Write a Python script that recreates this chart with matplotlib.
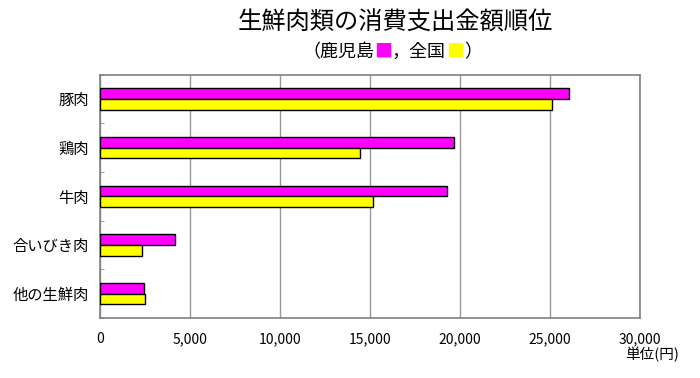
import matplotlib
matplotlib.use("Agg")
import matplotlib.pyplot as plt
import numpy as np

plt.rcParams['font.family'] = ['Noto Sans CJK JP', 'DejaVu Sans']

categories = ["豚肉", "鶏肉", "牛肉", "合いびき肉", "他の生鮮肉"]
kagoshima = [26050, 19650, 19300, 4180, 2460]
zenkoku = [25120, 14440, 15190, 2330, 2480]
xticks = [0, 5000, 10000, 15000, 20000, 25000, 30000]
xticklabels = ["0", "5,000", "10,000", "15,000", "20,000", "25,000", "30,000"]

W, H = 700, 378
fig = plt.figure(figsize=(7, 3.78), dpi=100)
ax = fig.add_axes([100 / W, 1 - 318 / H, 540 / W, (318 - 74.5) / H])

y = np.arange(len(categories))
h = 0.22
ax.barh(y - h / 2, kagoshima, height=h, color="#FF00FF", edgecolor="black", linewidth=1.0, zorder=3)
ax.barh(y + h / 2, zenkoku, height=h, color="#FFFF00", edgecolor="black", linewidth=1.0, zorder=3)

ax.set_xlim(0, 30000)
ax.set_ylim(len(categories) - 0.5, -0.5)
ax.set_xticks(xticks)
ax.set_xticklabels(xticklabels, fontsize=10)
ax.set_yticks(y)
ax.set_yticklabels(categories, fontsize=11)
ax.set_yticks(np.arange(len(categories) + 1) - 0.5, minor=True)
ax.tick_params(axis='y', which='major', length=0, pad=8)
ax.tick_params(axis='y', which='minor', length=3, direction='in', color='#888888')
ax.tick_params(axis='x', length=0, pad=10)
ax.grid(axis='x', color='#999999', linewidth=1.0, zorder=0)
for s in ax.spines.values():
    s.set_color('#808080')
    s.set_linewidth(1.2)

fig.text(395 / W, 1 - 23 / H, "生鮮肉類の消費支出金額順位", ha='center', va='center', fontsize=17.5)

parts = [("（鹿児島", "black"), ("■", "#FF00FF"), ("，全国", "black"), ("■", "#FFFF00"), ("）", "black")]
t = fig.text(302 / W, 1 - 52 / H, parts[0][0], ha='left', va='center', fontsize=13, color=parts[0][1])
for txt, col in parts[1:]:
    t = ax.annotate(txt, xy=(1, 0.5), xycoords=t, xytext=(0, 0), textcoords='offset points',
                    ha='left', va='center', fontsize=13, color=col, annotation_clip=False)

fig.text(679 / W, 1 - 355 / H, "単位(円)", ha='right', va='center', fontsize=10.5)

fig.savefig("out.png", dpi=100)
